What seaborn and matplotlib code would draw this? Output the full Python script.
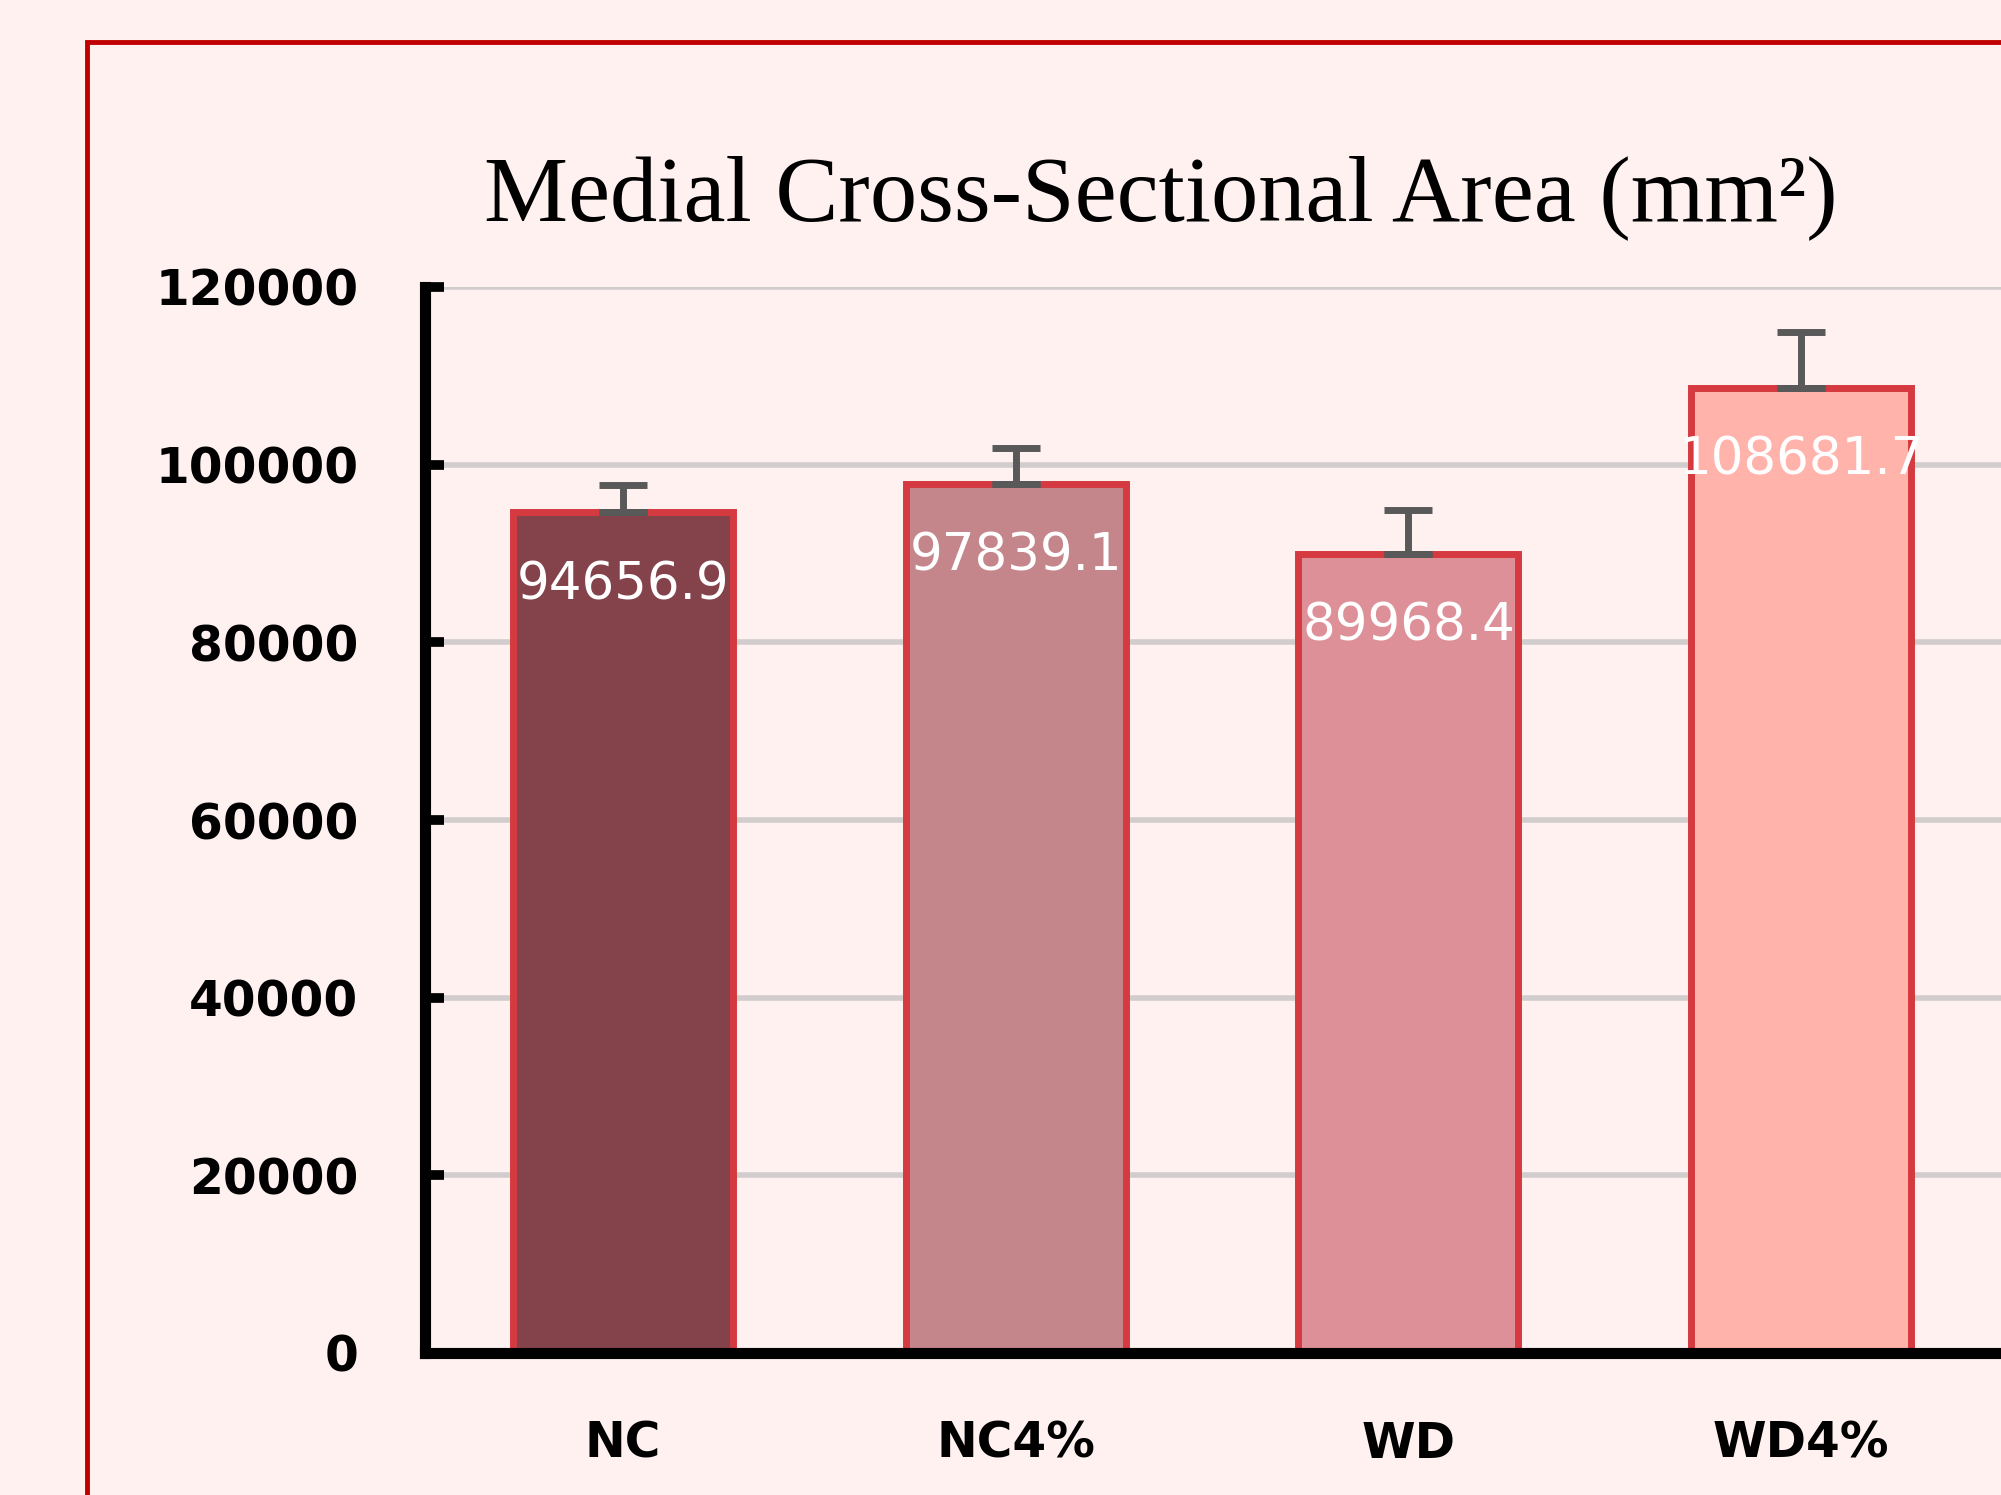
import matplotlib
matplotlib.use("Agg")
import matplotlib.pyplot as plt
import matplotlib.patches as mpatches
import seaborn as sns
import pandas as pd

# data
groups = ["NC", "NC4%", "WD", "WD4%"]
means = [94656.9, 97839.1, 89968.4, 108681.7]
errors = [3070, 4060, 4890, 6300]
bar_colors = ["#84434B", "#C4858B", "#DE9098", "#FFB3AB"]
y_ticks = [0, 20000, 40000, 60000, 80000, 100000, 120000]

bg = "#FEF1F0"
df = pd.DataFrame({"group": groups, "area": means})

sns.set_style("white")
plt.rcParams["font.family"] = ["DejaVu Sans"]
plt.rcParams["text.color"] = "black"
plt.rcParams["xtick.color"] = "black"
plt.rcParams["ytick.color"] = "black"

fig = plt.figure(figsize=(20.01, 14.95), dpi=100, facecolor=bg)
ax = fig.add_axes([425 / 2001, 1 - 1353 / 1495, 1 - 425 / 2001, (1353 - 287) / 1495])
ax.set_facecolor(bg)

# grid behind bars
ax.set_axisbelow(True)
ax.yaxis.grid(True, color="#D2CDCD", linewidth=4)

sns.barplot(data=df, x="group", y="area", hue="group", palette=bar_colors,
            saturation=1, legend=False, errorbar=None, width=0.56,
            edgecolor="#D43A3F", linewidth=5, ax=ax)

# plus-only error bars, Excel style
ax.errorbar(range(len(groups)), means, yerr=[[0] * len(means), errors],
            fmt="none", ecolor="#595959", elinewidth=5, capsize=17, capthick=5,
            zorder=5)
for i, v in enumerate(means):
    ax.plot([i], [v], marker="_", markersize=34, markeredgewidth=5,
            color="#595959", zorder=5)

# value labels inside the bars
for i, v in enumerate(means):
    ax.annotate(f"{v:.1f}", (i, v), xytext=(0, -73), textcoords="offset pixels",
                ha="center", va="center", color="white", fontsize=37, zorder=6)

ax.set_xlim(-0.504, 3.509)
ax.set_ylim(0, 120000)
ax.set_yticks(y_ticks)
ax.set_yticklabels([str(t) for t in y_ticks])
ax.set_xlabel("")
ax.set_ylabel("")

for s in ["top", "right"]:
    ax.spines[s].set_visible(False)
for s in ["left", "bottom"]:
    ax.spines[s].set_linewidth(8)
    ax.spines[s].set_color("black")

ax.tick_params(axis="y", left=True, direction="in", length=14, width=7,
               color="black", labelsize=35, pad=48)
ax.tick_params(axis="x", bottom=False, length=0, labelsize=35, pad=48)
for lab in ax.get_xticklabels() + ax.get_yticklabels():
    lab.set_fontweight("bold")

fig.text(1161 / 2001, 1 - 198 / 1495, "Medial Cross-Sectional Area (mm\u00b2)",
         ha="center", va="center", fontsize=68, family="Liberation Serif",
         color="black")

# red frame around the chart (runs off the right and bottom edges)
frame = mpatches.Rectangle((87 / 2001, -0.1), 1.2, 1.1 - 42 / 1495,
                           transform=fig.transFigure, fill=False,
                           edgecolor="#C00000", linewidth=3.5)
fig.patches.append(frame)

fig.savefig("out.png", dpi=100, facecolor=bg)
